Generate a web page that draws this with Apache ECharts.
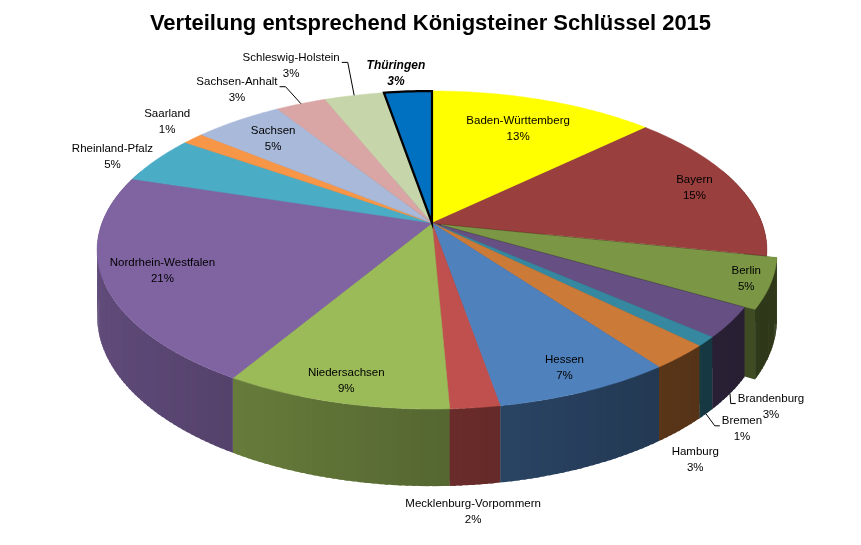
<!DOCTYPE html>
<html>
<head>
<meta charset="utf-8">
<script src="https://cdn.jsdelivr.net/npm/echarts@6/dist/echarts.min.js"></script>
<style>
  html, body { margin: 0; padding: 0; background: #fff; }
  #chart { width: 861px; height: 545px; }
</style>
</head>
<body>
<div id="chart"></div>
<script>
// Königsteiner Schlüssel 2015, Anteile in Prozent
const states = ['Baden-Württemberg', 'Bayern', 'Berlin', 'Brandenburg', 'Bremen', 'Hamburg', 'Hessen',
  'Mecklenburg-Vorpommern', 'Niedersachsen', 'Nordrhein-Westfalen', 'Rheinland-Pfalz', 'Saarland',
  'Sachsen', 'Sachsen-Anhalt', 'Schleswig-Holstein', 'Thüringen'];
const shares = [12.86, 15.4, 5.05, 3.06, 0.95, 2.53, 7.36, 2.04, 9.32, 21.21, 4.84, 1.22, 5.10, 2.86, 3.40, 2.72];
const sliceColors = ['#FFFF00', '#993F3D', '#7B9645', '#664F82', '#35889F', '#CC7A38', '#4F81BD',
  '#C0504D', '#9BBB59', '#8064A2', '#4BACC6', '#F79646', '#A8B9D9', '#D9A6A5', '#C6D5AA', '#0070C0'];
const explodedState = 'Berlin';
const highlightedState = 'Thüringen';

// Beschriftung: r = innen (Radius), sonst Versatz außen
const labelLayout = {
  'Baden-Württemberg': { r: 0.74 },
  'Bayern': { r: 0.86 },
  'Berlin': { r: 0.93 },
  'Brandenburg': { dx: 41, dy: 13, leader: true },
  'Bremen': { dx: 36, dy: 15, leader: true },
  'Hamburg': { dx: 15, dy: 30 },
  'Hessen': { r: 0.88 },
  'Mecklenburg-Vorpommern': { dx: -2, dy: 27 },
  'Niedersachsen': { r: 0.9 },
  'Nordrhein-Westfalen': { r: 0.83 },
  'Rheinland-Pfalz': { dx: -44, dy: -3 },
  'Saarland': { dx: -26, dy: -17 },
  'Sachsen': { r: 0.8 },
  'Sachsen-Anhalt': { dx: -64, dy: -14, leader: true },
  'Schleswig-Holstein': { dx: -63, dy: -30, leader: true },
  'Thüringen': { dx: -12, dy: -18 }
};

// 3D-Ansicht (Perspektive, Höhe der Torte)
const view = { cx: 432, cy: 223, rx: 330, ry: 154.4, k: 0.17, depth: 64, explode: 0.03 };
const FONT = '"Liberation Sans", Arial, sans-serif';

const total = shares.reduce((s, v) => s + v, 0);
const starts = [];
let acc = 0;
shares.forEach(v => { starts.push(acc); acc += v; });

function geom(i) {
  const a0 = starts[i] / total * Math.PI * 2;
  const a1 = (starts[i] + shares[i]) / total * Math.PI * 2;
  const mid = (a0 + a1) / 2;
  const e = states[i] === explodedState ? view.explode : 0;
  return { a0, a1, mid, off: [e * Math.sin(mid), e * Math.cos(mid)] };
}

// Winkel im Uhrzeigersinn ab 12 Uhr
function project(ang, r, off, down) {
  const x3 = r * Math.sin(ang) + off[0];
  const z3 = r * Math.cos(ang) + off[1];
  const d = 1 + view.k * z3;
  return [view.cx + view.rx * x3 / d, view.cy - view.ry * z3 / d + (down ? view.depth / d : 0)];
}

function arcAngles(a0, a1) {
  const n = Math.max(2, Math.ceil((a1 - a0) / (Math.PI / 180)));
  const out = [];
  for (let j = 0; j <= n; j++) out.push(a0 + (a1 - a0) * j / n);
  return out;
}

function shade(hex, f) {
  const n = parseInt(hex.slice(1), 16);
  const c = [(n >> 16) & 255, (n >> 8) & 255, n & 255].map(v => Math.round(v * f));
  return 'rgb(' + c.join(',') + ')';
}

function wallFactor(a) {
  return Math.min(0.8, Math.max(0.38, 0.56 - 0.2 * Math.sin(a)));
}

const ctx = document.createElement('canvas').getContext('2d');
function textWidth(t, font) {
  ctx.font = font;
  return ctx.measureText(t).width;
}

const idx = states.map((s, i) => i);
const backToFront = idx.slice().sort((p, q) => Math.cos(geom(q).mid) - Math.cos(geom(p).mid));

function renderRadial(params, api) {
  const i = api.value(0);
  const g = geom(i);
  const color = shade(sliceColors[i], 0.5);
  const children = [g.a0, g.a1].map(a => ({
    type: 'polygon',
    shape: { points: [project(0, 0, g.off, false), project(a, 1, g.off, false),
      project(a, 1, g.off, true), project(0, 0, g.off, true)] },
    style: { fill: color }
  }));
  return { type: 'group', children };
}

function renderWall(params, api) {
  const i = api.value(0);
  const g = geom(i);
  const ang = arcAngles(g.a0, g.a1);
  const overlap = Math.PI / 360;
  const segs = [];
  for (let j = 0; j < ang.length - 1; j++) {
    const m = (ang[j] + ang[j + 1]) / 2;
    if (Math.cos(m) > 0.35) continue;
    segs.push({ m, b0: ang[j], b1: Math.min(g.a1, ang[j + 1] + overlap) });
  }
  segs.sort((p, q) => Math.cos(q.m) - Math.cos(p.m));
  const children = segs.map(s => ({
    type: 'polygon',
    shape: { points: [project(s.b0, 1, g.off, false), project(s.b1, 1, g.off, false),
      project(s.b1, 1, g.off, true), project(s.b0, 1, g.off, true)] },
    style: { fill: shade(sliceColors[i], wallFactor(s.m)) }
  }));
  return { type: 'group', children };
}

function renderTop(params, api) {
  const i = api.value(0);
  const g = geom(i);
  const pts = [project(0, 0, g.off, false)];
  arcAngles(g.a0, g.a1).forEach(a => pts.push(project(a, 1, g.off, false)));
  const hi = states[i] === highlightedState;
  return {
    type: 'polygon',
    shape: { points: pts },
    style: {
      fill: sliceColors[i],
      stroke: hi ? '#000' : sliceColors[i],
      lineWidth: hi ? 2.2 : 0.5,
      lineJoin: 'miter'
    }
  };
}

function renderLabel(params, api) {
  const i = api.value(0);
  const share = api.value(1);
  const g = geom(i);
  const lay = labelLayout[states[i]];
  const hi = states[i] === highlightedState;
  const font = (hi ? 'italic bold 12px ' : '11.5px ') + FONT;
  let pos, anchor = null;
  if (lay.r !== undefined) {
    pos = project(g.mid, lay.r, g.off, false);
  } else {
    anchor = project(g.mid, 1, g.off, Math.cos(g.mid) < 0);
    pos = [anchor[0] + lay.dx, anchor[1] + lay.dy];
  }
  const children = [{
    type: 'text',
    x: pos[0],
    y: pos[1],
    style: {
      text: states[i] + '\n' + Math.round(share / total * 100) + '%',
      font,
      fill: '#000',
      align: 'center',
      verticalAlign: 'middle',
      lineHeight: 16
    }
  }];
  if (lay.leader) {
    const half = textWidth(states[i], font) / 2;
    const right = lay.dx > 0;
    const edge = right ? pos[0] - half - 2 : pos[0] + half + 2;
    const elbow = right ? edge - 5 : edge + 6;
    children.push({
      type: 'polyline',
      shape: { points: [anchor, [elbow, pos[1] - 3], [edge, pos[1] - 3]] },
      style: { stroke: '#000', lineWidth: 1, fill: null }
    });
  }
  return { type: 'group', children };
}

const chart = echarts.init(document.getElementById('chart'));
chart.setOption({
  backgroundColor: '#fff',
  animation: false,
  title: {
    text: 'Verteilung entsprechend Königsteiner Schlüssel 2015',
    left: 'center',
    top: 8,
    textStyle: { fontFamily: FONT, fontSize: 22, fontWeight: 'bold', color: '#000' }
  },
  series: [
    { type: 'custom', coordinateSystem: 'none', silent: true, renderItem: renderRadial,
      data: idx.map(i => [i, shares[i]]) },
    { type: 'custom', coordinateSystem: 'none', silent: true, renderItem: renderWall,
      data: backToFront.map(i => [i, shares[i]]) },
    { type: 'custom', coordinateSystem: 'none', silent: true, renderItem: renderTop,
      data: idx.map(i => [i, shares[i]]) },
    { type: 'custom', coordinateSystem: 'none', silent: true, renderItem: renderLabel,
      data: idx.map(i => [i, shares[i]]) }
  ]
});
</script>
</body>
</html>
